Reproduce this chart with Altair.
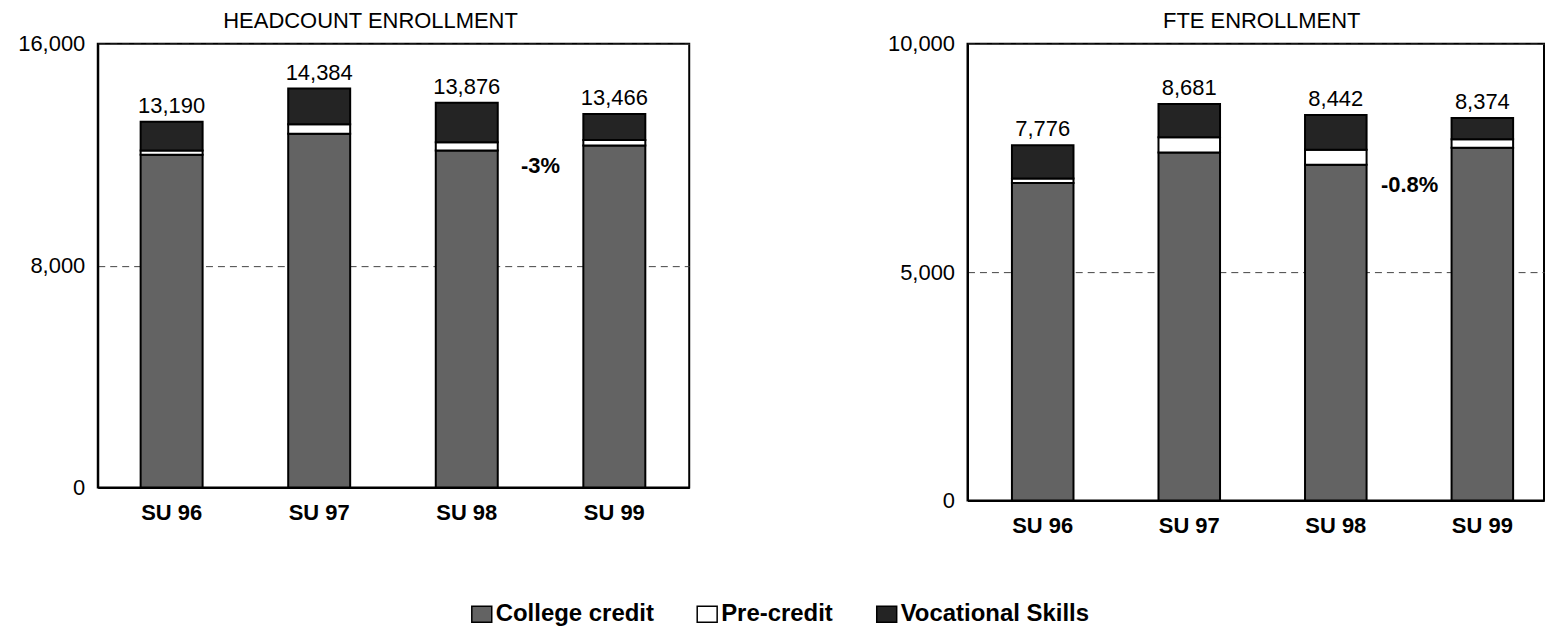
import altair as alt
import pandas as pd

categories = ["SU 96", "SU 97", "SU 98", "SU 99"]
series_names = ["College credit", "Pre-credit", "Vocational Skills"]

hc_college = [12000, 12750, 12150, 12330]
hc_pre = [150, 350, 300, 200]
hc_voc = [1040, 1284, 1426, 936]
hc_totals = [13190, 14384, 13876, 13466]

fte_college = [6950, 7620, 7350, 7720]
fte_pre = [100, 330, 330, 190]
fte_voc = [726, 731, 762, 464]
fte_totals = [7776, 8681, 8442, 8374]

hc_ticks = [0, 8000, 16000]
fte_ticks = [0, 5000, 10000]

annotation_labels = ["-3%", "-0.8%"]
annotation_values = [11600, 6900]
annotation_category = "SU 98"

FONT = "Liberation Sans"
COLORS = ["#636363", "#ffffff", "#242424"]


def panel(title, title_dx, college, pre, voc, totals, ticks, width, height, align, p_o,
          ann, ann_val):
    rows = []
    for i, c in enumerate(categories):
        for j, (s, v) in enumerate(zip(series_names, [college[i], pre[i], voc[i]])):
            rows.append({"cat": c, "series": s, "value": v, "ord": j})
    df = pd.DataFrame(rows)
    xs = alt.Scale(domain=categories, paddingInner=0.58, paddingOuter=p_o, align=align)
    ys = alt.Scale(domain=[ticks[0], ticks[-1]], nice=False, zero=True)
    xaxis = alt.Axis(title=None, labelAngle=0, labelFontSize=22, labelFontWeight="bold",
                     labelFont=FONT, labelColor="black", ticks=False, labelPadding=15,
                     domainColor="black", domainWidth=2, grid=False)
    yaxis = alt.Axis(title=None, values=ticks, format=",d", labelFontSize=22, labelFont=FONT,
                     labelColor="black", ticks=False, labelPadding=13, domainColor="black",
                     domainWidth=2, grid=True, gridDash=[7, 5], gridColor="#444444",
                     gridWidth=1, minExtent=89, maxExtent=89)
    legend = alt.Legend(orient="none", legendX=373, legendY=560,
                        direction="horizontal", title=None,
                        symbolType="M-1,-0.8H1V0.8H-1Z", symbolSize=400,
                        symbolStrokeColor="black", symbolStrokeWidth=1.5,
                        symbolOpacity=1,
                        labelFontSize=24, labelFontWeight="bold",
                        labelFont=FONT, labelColor="black", labelOffset=2,
                        columnPadding=40, labelLimit=400)
    bars = alt.Chart(df).mark_bar(stroke="black", strokeWidth=2).encode(
        x=alt.X("cat:N", scale=xs, sort=categories, axis=xaxis, title=None),
        y=alt.Y("value:Q", stack="zero", scale=ys, axis=yaxis, title=None),
        color=alt.Color("series:N", scale=alt.Scale(domain=series_names, range=COLORS),
                        legend=legend),
        order=alt.Order("ord:Q", sort="ascending"),
    )
    tdf = pd.DataFrame({"cat": categories, "total": totals})
    text = alt.Chart(tdf).mark_text(dy=-9, baseline="alphabetic", fontSize=22, font=FONT,
                                    color="black").encode(
        x=alt.X("cat:N", scale=xs, sort=categories, title=None),
        y=alt.Y("total:Q", scale=ys, title=None),
        text=alt.Text("total:Q", format=","),
    )
    adf = pd.DataFrame({"cat": [annotation_category], "label": [ann], "v": [ann_val]})
    ann_c = alt.Chart(adf).mark_text(dx=74, fontSize=22, fontWeight="bold", font=FONT,
                                     color="black", baseline="middle").encode(
        x=alt.X("cat:N", scale=xs, sort=categories, title=None),
        y=alt.Y("v:Q", scale=ys, title=None),
        text="label:N",
    )
    return alt.layer(bars, text, ann_c).properties(
        width=width, height=height,
        title=alt.TitleParams(title, fontSize=22, font=FONT, fontWeight="normal",
                              color="black", offset=0, anchor="middle", frame="group",
                              dx=title_dx),
    )


left = panel("HEADCOUNT ENROLLMENT", -23, hc_college, hc_pre, hc_voc, hc_totals, hc_ticks,
             593, 445, 0.494, 0.294, annotation_labels[0], annotation_values[0])
right = panel("FTE ENROLLMENT", 6, fte_college, fte_pre, fte_voc, fte_totals, fte_ticks,
              578, 458, 0.59, 0.257, annotation_labels[1], annotation_values[1])

chart = alt.hconcat(left, right, spacing=188).properties(
    padding={"left": 0, "top": 0, "right": 0, "bottom": 0}
).configure_view(stroke="black", strokeWidth=2)

chart.save("out.html", embed_options={"renderer": "svg", "actions": False})
